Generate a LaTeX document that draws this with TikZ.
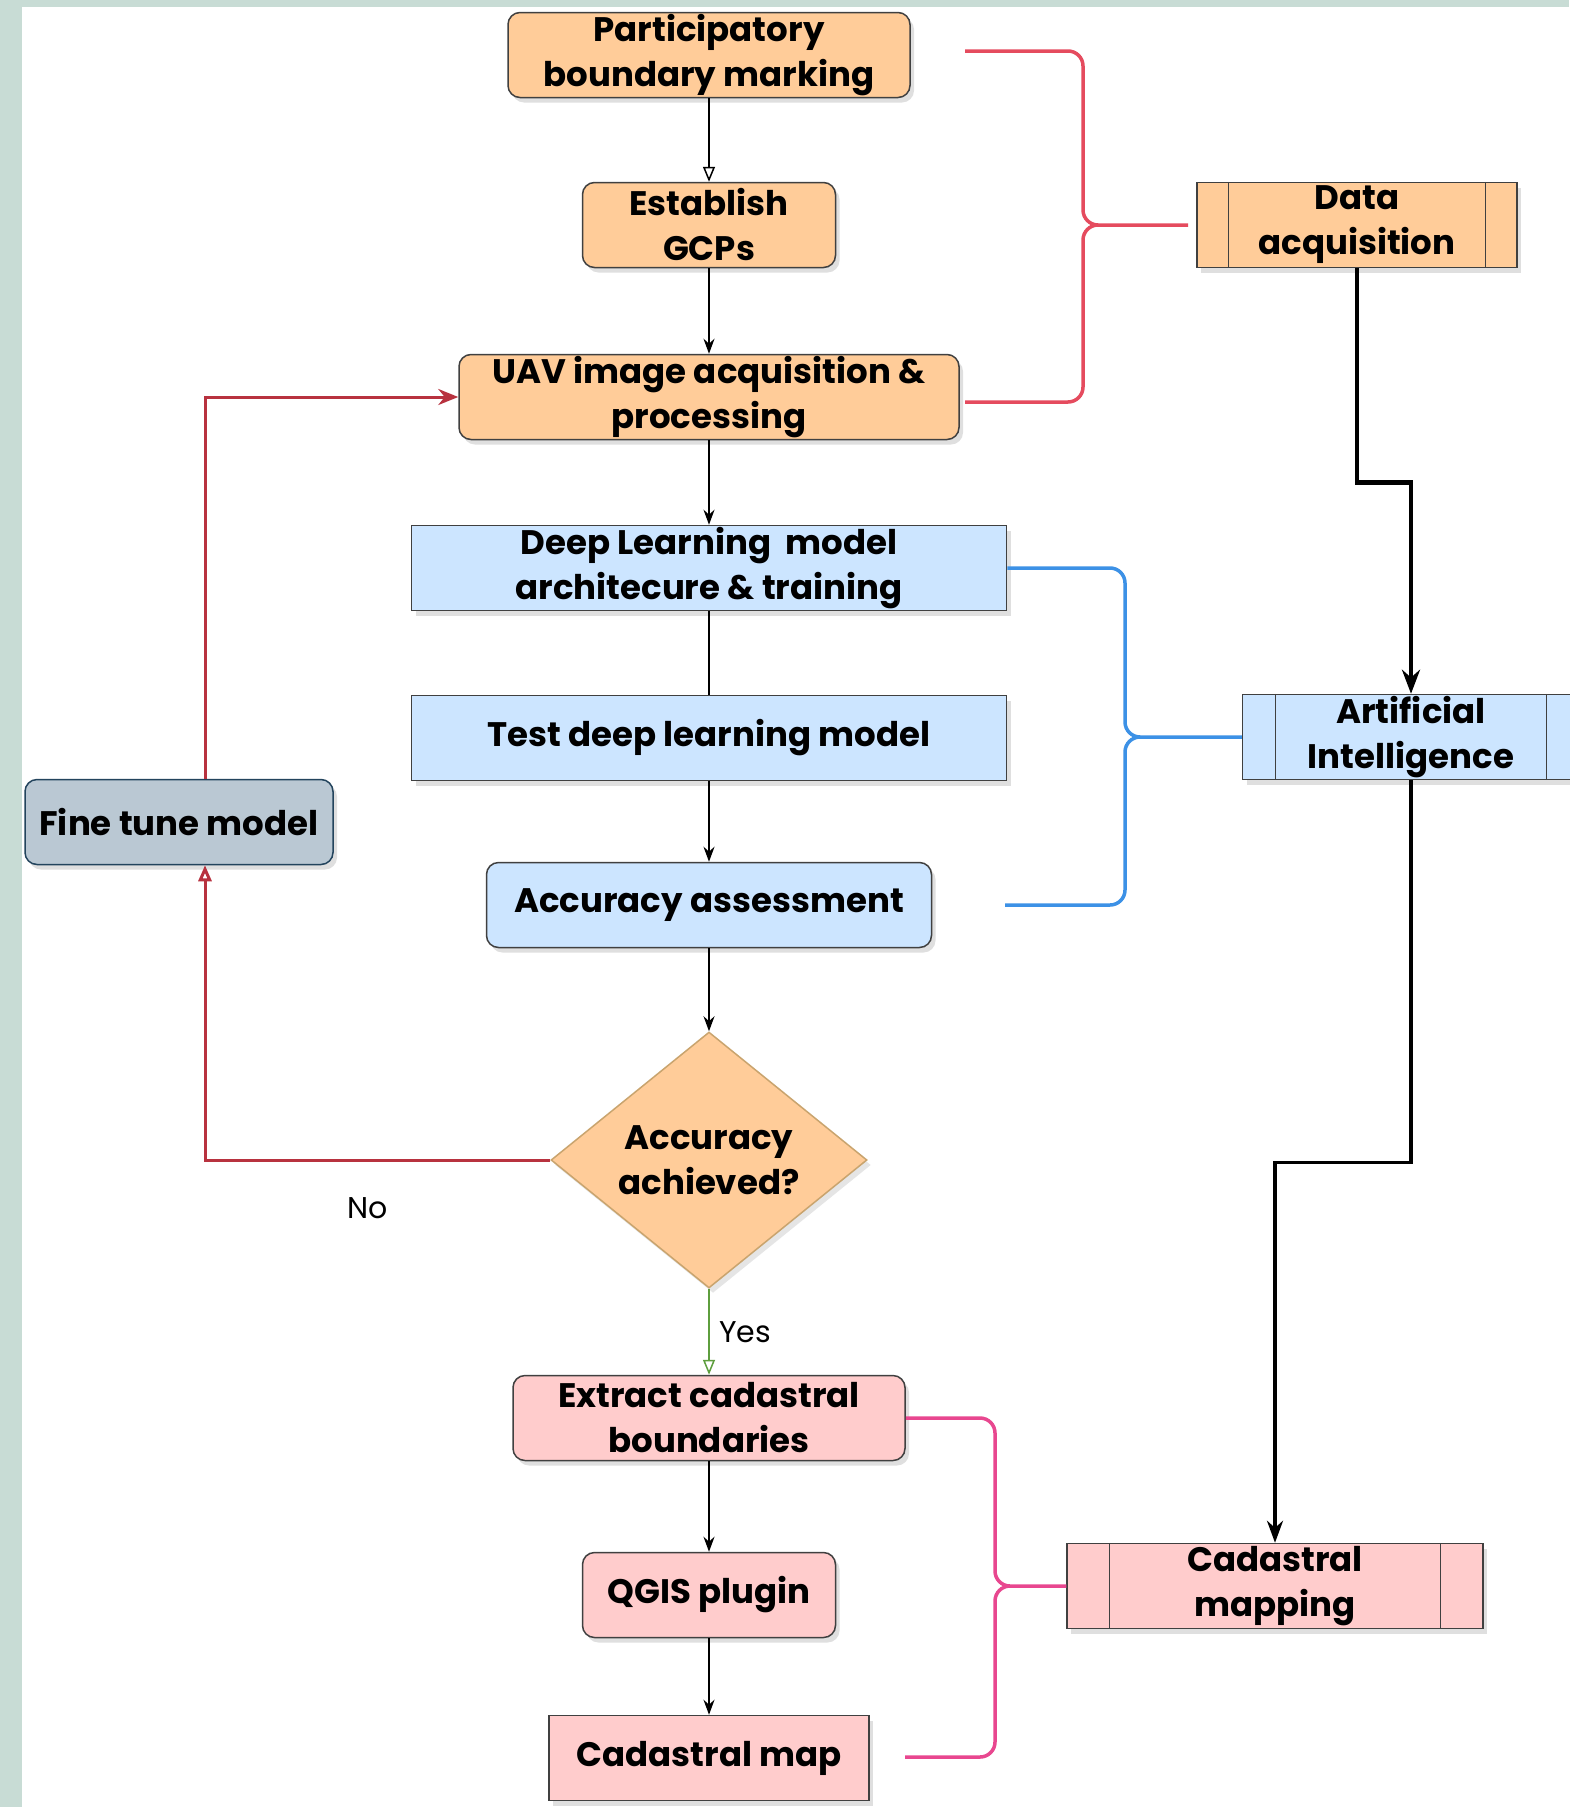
\documentclass[tikz,border=0pt]{standalone}
\usepackage{fontspec}
\setmainfont{Poppins}
\usetikzlibrary{arrows.meta,shapes.geometric,shadows}
\definecolor{orangefill}{HTML}{FFCC99}
\definecolor{bluefill}{HTML}{CCE5FF}
\definecolor{pinkfill}{HTML}{FFCCCC}
\definecolor{tunefill}{HTML}{BAC8D3}
\definecolor{tuneline}{HTML}{23445D}
\definecolor{diaborder}{HTML}{C9A46E}
\definecolor{frame}{HTML}{C8DCD5}
\definecolor{bracered}{HTML}{E54B5E}
\definecolor{braceblue}{HTML}{3C91E6}
\definecolor{bracepink}{HTML}{E8478F}
\definecolor{loopred}{HTML}{B8323F}
\definecolor{yesgreen}{HTML}{5E9E3E}

\begin{document}
\begin{tikzpicture}[x=1pt,y=-1pt,
    box/.style={draw=black!75,line width=1.5pt,minimum height=85pt,inner sep=0pt,align=center,
      font=\fontsize{34}{45}\selectfont\bfseries,
      drop shadow={shadow xshift=4pt,shadow yshift=-5pt,opacity=0.25}},
    rbox/.style={box,rounded corners=12pt},
    lbl/.style={font=\fontsize{30}{34}\selectfont},
    flow/.style={line width=1.5pt,-{Stealth[length=15pt,width=11pt]}},
    brace/.style={line width=3.5pt,rounded corners=15pt}]
  % the page
  \useasboundingbox (0,0) rectangle (1569,1807);
  \fill[frame] (0,0) rectangle (1569,1807);
  \fill[white] (22,7) rectangle (1569,1807);
  %% main column
  \node[rbox,fill=orangefill,minimum width=402pt] (part) at (709,55) {Participatory\\boundary marking};
  \node[rbox,fill=orangefill,minimum width=253pt] (est) at (709,225) {Establish\\GCPs};
  \node[rbox,fill=orangefill,minimum width=500pt] (uav) at (709,397) {UAV image acquisition \&\\processing};
  \node[box,fill=bluefill,minimum width=595pt] (deep) at (709,568) {Deep Learning\ \ model\\architecure \& training};
  \node[box,fill=bluefill,minimum width=595pt] (test) at (709,738) {Test deep learning model};
  \node[rbox,fill=bluefill,minimum width=445pt] (acc) at (709,905) {Accuracy assessment};
  \node[diamond,draw=diaborder,line width=1.5pt,fill=orangefill,inner sep=0pt,aspect=1.23,
    minimum width=316pt,minimum height=256pt,align=center,font=\fontsize{34}{45}\selectfont\bfseries,
    drop shadow={shadow xshift=4pt,shadow yshift=-5pt,opacity=0.2}] (dia) at (709,1160) {Accuracy\\achieved?};
  \node[rbox,fill=pinkfill,minimum width=392pt] (ext) at (709,1418) {Extract cadastral\\boundaries};
  \node[rbox,fill=pinkfill,minimum width=253pt] (qgis) at (709,1595) {QGIS plugin};
  \node[box,fill=pinkfill,minimum width=320pt] (map) at (709,1758) {Cadastral map};
  \node[rbox,draw=tuneline,fill=tunefill,minimum width=308pt] (fine) at (179,822) {Fine tune model};
  %% process boxes on the right
  \node[box,fill=orangefill,minimum width=320pt] (da) at (1357,225) {Data\\acquisition};
  \node[box,fill=bluefill,minimum width=337pt] (ai) at (1411,737) {Artificial\\Intelligence};
  \node[box,fill=pinkfill,minimum width=416pt] (cm) at (1275,1586) {Cadastral\\mapping};
  \foreach \n/\d in {da/32,ai/34,cm/43}
  {
    \draw[line width=1.2pt,black!75] ([xshift=\d pt]\n.north west) -- ([xshift=\d pt]\n.south west);
    \draw[line width=1.2pt,black!75] ([xshift=-\d pt]\n.north east) -- ([xshift=-\d pt]\n.south east);
  }
  %% arrows down the column
  \draw[line width=1.5pt,-{Triangle[open,fill=white,length=15pt,width=12pt]}] (part) -- (est);
  \draw[flow] (est) -- (uav);
  \draw[flow] (uav) -- (deep);
  \draw[line width=1.5pt] (deep) -- (test);
  \draw[flow] (test) -- (acc);
  \draw[flow] (acc) -- (dia);
  \draw[yesgreen,line width=1.5pt,-{Triangle[open,fill=white,length=15pt,width=12pt]}] (dia) --
    node[lbl,right,xshift=6pt,text=black] (yes) {Yes} (ext);
  \draw[flow] (ext) -- (qgis);
  \draw[flow] (qgis) -- (map);
  % the loop back
  \draw[loopred,line width=3pt,-{Triangle[open,fill=white,length=16pt,width=13pt]}] (dia.west) -| ([xshift=26pt]fine.south);
  \node[lbl] (no) at (368,1208) {No};
  \draw[loopred,line width=3pt,-{Stealth[length=20pt,width=16pt]}] ([xshift=26pt]fine.north) |- (uav.west);
  %% right hand chain
  \draw[line width=4.5pt,-{Stealth[length=24pt,width=18pt]}] (da.south) -- ++(0,214) -| (ai.north);
  \draw[line width=3.5pt,-{Stealth[length=22pt,width=16pt]}] (ai.south) -- ++(0,382) -| (cm.north);
  %% braces
  \coordinate (r1) at (965,51);
  \coordinate (r2) at (965,402);
  \coordinate (rt) at (1188,225);
  \draw[brace,bracered] (r1) -- (1083,51) -- (1083,225) -- (rt) (r2) -- (1083,402) -- (1083,225) -- (rt);
  \coordinate (b2) at (1005,905);
  \draw[brace,braceblue] (deep.east) -- (1125,568) -- (1125,737) -- (ai.west) (b2) -- (1125,905) -- (1125,737) -- (ai.west);
  \coordinate (p2) at (905,1757);
  \draw[brace,bracepink] (ext.east) -- (995,1418) -- (995,1586) -- (cm.west) (p2) -- (995,1757) -- (995,1586) -- (cm.west);
\end{tikzpicture}
\end{document}
